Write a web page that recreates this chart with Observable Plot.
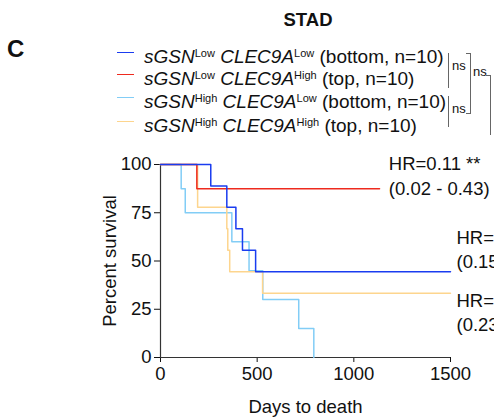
<!DOCTYPE html>
<html><head><meta charset="utf-8">
<script src="https://cdn.jsdelivr.net/npm/d3@7"></script>
<script src="https://cdn.jsdelivr.net/npm/@observablehq/plot@0.6"></script>
<style>
html,body{margin:0;padding:0;background:#fff;overflow:hidden;}
#wrap{position:relative;width:494px;height:419px;overflow:hidden;font-family:"Liberation Sans",Arial,Helvetica,sans-serif;color:#111;}
#chart{position:absolute;left:0;top:0;}
.abs{position:absolute;white-space:nowrap;}
.row{font-size:19px;line-height:22px;}
.row i{font-style:italic;}
.sup{font-size:11px;vertical-align:6px;}
.sw{position:absolute;height:0;border-top:1.5px solid;width:17px;}
.br{position:absolute;border-left:1.5px solid #666;}
.ns{position:absolute;font-size:13px;}
</style></head><body>
<div id="wrap"><div id="chart"></div><div id="legend"></div></div>
<script>
// ---- data ----
const groupNames = ["sGSN-Low CLEC9A-Low","sGSN-Low CLEC9A-High","sGSN-High CLEC9A-Low","sGSN-High CLEC9A-High"];
const groupColors = ["#1a3cf0","#ee2a1e","#82cdf6","#fdd58e"];
const sgsnLevels = ["Low","Low","High","High"];
const clecLevels = ["Low","High","Low","High"];
const sides = ["bottom","top","bottom","top"];
const nCounts = [10,10,10,10];

const blueDays = [0,260,343,390,424,492,1500];
const blueSurv = [100,88.9,77.8,66.7,55.6,44.4,44.4];
const redDays = [0,188,1133];
const redSurv = [100,87.5,87.5];
const lightDays = [0,107,128,369,458,529,715,793];
const lightSurv = [100,87.5,75,60,45,30,15,0];
const yellowDays = [0,192,343,348,358,528,1500];
const yellowSurv = [100,77.8,66.7,55.6,44.4,33.3,33.3];

const xTicks = [0,500,1000,1500];
const yTicks = [0,25,50,75,100];

const hrText = ["HR=0.11 **","(0.02 - 0.43)","HR=","(0.15","HR=","(0.23"];
const hrDay = [1181,1181,1531,1531,1531,1531];
const hrSurv = [100.4,87.3,61.7,49.7,29.4,17.0];

// ---- build ----
const series = [
  {name: groupNames[2], days: lightDays, surv: lightSurv},
  {name: groupNames[3], days: yellowDays, surv: yellowSurv},
  {name: groupNames[1], days: redDays, surv: redSurv},
  {name: groupNames[0], days: blueDays, surv: blueSurv}
];
const rows = [];
series.forEach(s => s.days.forEach((d,i) => rows.push({group: s.name, day: d, surv: s.surv[i]})));
const hr = hrText.map((t,i) => ({text: t, day: hrDay[i], surv: hrSurv[i]}));

const font = '"Liberation Sans",Arial,Helvetica,sans-serif';
const chart = Plot.plot({
  width: 494, height: 419,
  marginLeft: 160, marginRight: 44, marginTop: 164, marginBottom: 62,
  style: {fontFamily: font, fontSize: "18.5px", color: "#111", background: "transparent", overflow: "visible"},
  x: {domain: [0,1500]},
  y: {domain: [0,100]},
  color: {domain: groupNames, range: groupColors},
  marks: [
    Plot.axisY({ticks: yTicks, tickFormat: d => String(d), tickSize: 6, tickPadding: 3, label: "Percent survival", labelAnchor: "center", labelOffset: 58, labelArrow: false, fontSize: 18.5}),
    Plot.axisX({ticks: xTicks, tickFormat: d => String(d), tickSize: 5, tickPadding: 4, label: "Days to death", labelAnchor: "center", labelOffset: 55, labelArrow: false, fontSize: 18.5}),
    Plot.ruleX([0], {stroke: "#333", strokeWidth: 1.2}),
    Plot.ruleY([0], {stroke: "#333", strokeWidth: 1.2}),
    Plot.line(rows, {x: "day", y: "surv", z: "group", stroke: "group", curve: "step-after", strokeWidth: 1.5}),
    Plot.text(hr, {x: "day", y: "surv", text: "text", textAnchor: "start", lineAnchor: "middle", fontSize: 18.5, fill: "#111"})
  ]
});
document.getElementById("chart").appendChild(chart);

// ---- legend & annotations (HTML) ----
const lg = document.getElementById("legend");
let html = '';
html += '<div class="abs" style="left:308px;top:20px;transform:translate(-50%,-50%);font-weight:bold;font-size:18.5px;">STAD</div>';
html += '<div class="abs" style="left:7px;top:49px;transform:translate(0,-50%);font-weight:bold;font-size:24px;">C</div>';
const rowY = [53, 75, 98, 122];
groupNames.forEach((g,i) => {
  html += `<div class="sw" style="left:117px;top:${rowY[i]-1}px;border-color:${groupColors[i]}"></div>`;
  html += `<div class="abs row" style="left:144px;top:${rowY[i]-11}px;"><i>sGSN</i><span class="sup">${sgsnLevels[i]}</span> <i>CLEC9A</i><span class="sup">${clecLevels[i]}</span> (${sides[i]}, n=${nCounts[i]})</div>`;
});
// significance brackets
html += '<div class="br" style="left:448px;top:53px;height:35px;"></div>';
html += '<div class="ns" style="left:452px;top:58px;">ns</div>';
html += '<div class="br" style="left:448px;top:96px;height:31px;"></div>';
html += '<div class="ns" style="left:452px;top:101px;">ns</div>';
html += '<div class="br" style="left:470px;top:53px;height:61px;"></div>';
html += '<div class="abs" style="left:466px;top:53px;width:4px;border-top:1.5px solid #666;"></div>';
html += '<div class="abs" style="left:466px;top:113px;width:4px;border-top:1.5px solid #666;"></div>';
html += '<div class="ns" style="left:473px;top:64px;">ns</div>';
html += '<div class="br" style="left:490px;top:75px;height:60px;"></div>';
html += '<div class="abs" style="left:486px;top:75px;width:4px;border-top:1.5px solid #666;"></div>';
lg.innerHTML = html;
</script>
</body></html>
